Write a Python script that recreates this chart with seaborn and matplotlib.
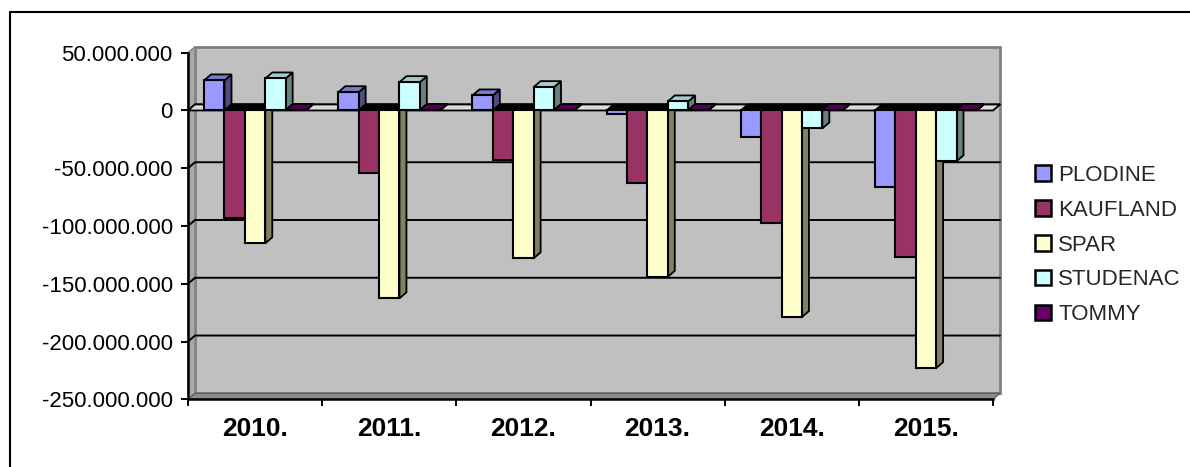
import matplotlib
matplotlib.use("Agg")
import matplotlib.pyplot as plt
from matplotlib.patches import Polygon, Patch, Rectangle
from matplotlib.lines import Line2D
from matplotlib.ticker import FuncFormatter, FixedLocator
from matplotlib.colors import to_rgb
import numpy as np
import pandas as pd
import seaborn as sns

years = ["2010.", "2011.", "2012.", "2013.", "2014.", "2015."]
stores = ["PLODINE", "KAUFLAND", "SPAR", "STUDENAC", "TOMMY"]
plodine = [26.0e6, 15.8e6, 13.0e6, -3.0e6, -23.0e6, -66.3e6]
kaufland = [-93.4e6, -54.5e6, -43.3e6, -63.0e6, -97.7e6, -127.0e6]
spar = [-115.0e6, -162.6e6, -128.0e6, -144.0e6, -178.8e6, -223.0e6]
studenac = [27.7e6, 24.5e6, 20.2e6, 7.8e6, -15.6e6, -44.0e6]
tommy = [0.4e6, 0.4e6, 0.4e6, 0.4e6, 0.4e6, 0.4e6]
colors = ["#9999FF", "#993366", "#FFFFCC", "#CCFFFF", "#660066"]

y_min, y_max = -250e6, 50e6
y_ticks = np.arange(y_min, y_max + 1, 50e6)

rows = []
for store, values in zip(stores, [plodine, kaufland, spar, studenac, tommy]):
    for year, value in zip(years, values):
        rows.append({"year": year, "store": store, "value": value})
df = pd.DataFrame(rows)

sns.set_theme(style="white")
plt.rcParams["font.family"] = ["Liberation Sans", "DejaVu Sans"]

W, H = 1190, 467
fig = plt.figure(figsize=(W / 100, H / 100), dpi=100)

# front frame of the 3d box, in pixels
left_px, right_px, top_px, bottom_px = 188, 993, 52.7, 399.3
ax = fig.add_axes([left_px / W, 1 - bottom_px / H,
                   (right_px - left_px) / W, (bottom_px - top_px) / H])

sns.barplot(data=df, x="year", y="value", hue="store", order=years,
            hue_order=stores, palette=colors, saturation=1, width=0.76,
            edgecolor="black", linewidth=1.5, legend=False, ax=ax)
bars = [p for p in ax.patches if isinstance(p, Rectangle)]

x0, x1 = -0.5, len(years) - 0.5
ax.set_xlim(x0, x1)
ax.set_ylim(y_min, y_max)
ax.patch.set_visible(False)

# depth of the 3d effect, converted from pixels to data units
dx = 7 * (x1 - x0) / (right_px - left_px)
dy = 6 * (y_max - y_min) / (bottom_px - top_px)

# back wall, left wall, floors
ax.add_patch(Rectangle((x0 + dx, y_min + dy), x1 - x0, y_max - y_min,
                       facecolor="#c0c0c0", edgecolor="#808080", lw=2,
                       zorder=0, clip_on=False))
ax.add_patch(Polygon([(x0, y_min), (x0, y_max), (x0 + dx, y_max + dy), (x0 + dx, y_min + dy)],
                     closed=True, facecolor="#a8a8a8", edgecolor="#808080", lw=1,
                     zorder=0.2, clip_on=False))
ax.add_patch(Polygon([(x0, y_min), (x1, y_min), (x1 + dx, y_min + dy), (x0 + dx, y_min + dy)],
                     closed=True, facecolor="#8c8c8c", edgecolor="#606060", lw=1,
                     zorder=0.3, clip_on=False))
for v in y_ticks[1:-1]:
    ax.add_line(Line2D([x0, x0 + dx, x1 + dx], [v, v + dy, v + dy], color="black",
                       lw=1.4, zorder=0.5, clip_on=False))
ax.add_patch(Polygon([(x0, 0), (x1, 0), (x1 + dx, dy), (x0 + dx, dy)],
                     closed=True, facecolor="#dcdcdc", edgecolor="black", lw=1.3,
                     zorder=1, clip_on=False))

# side and top faces for each bar
bar_w = 0.76 / len(stores)
for bar in bars:
    x = bar.get_x()
    w = bar.get_width()
    center = x + w / 2
    k = int(round((center - round(center)) / bar_w + (len(stores) - 1) / 2))
    base = np.array(to_rgb(colors[k]))
    y_a, y_b = bar.get_y(), bar.get_y() + bar.get_height()
    bot, top = min(y_a, y_b), max(y_a, y_b)
    bar.set_zorder(3 + 2 * k)
    bar.set_clip_on(False)
    side = Polygon([(x + w, bot), (x + w, top), (x + w + dx, top + dy), (x + w + dx, bot + dy)],
                   closed=True, facecolor=base * 0.5, edgecolor="black", lw=1.3,
                   zorder=2 + 2 * k, clip_on=False)
    top_color = base * 0.8 if top > 0 else "black"
    cap = Polygon([(x, top), (x + w, top), (x + w + dx, top + dy), (x + dx, top + dy)],
                  closed=True, facecolor=top_color, edgecolor="black", lw=1.3,
                  zorder=2 + 2 * k, clip_on=False)
    ax.add_patch(side)
    ax.add_patch(cap)

for s in ["top", "right"]:
    ax.spines[s].set_visible(False)
for s in ["left", "bottom"]:
    ax.spines[s].set_color("black")
    ax.spines[s].set_linewidth(1.8)
    ax.spines[s].set_zorder(20)

ax.yaxis.set_major_locator(FixedLocator(y_ticks))
ax.yaxis.set_major_formatter(FuncFormatter(lambda v, p: f"{v:,.0f}".replace(",", ".")))
ax.tick_params(axis="y", direction="out", length=5, width=1.4, pad=6,
               labelsize=16, colors="black", left=True)
ax.set_xticks(range(len(years)))
ax.set_xticklabels(years, fontsize=19, fontweight="bold")
ax.set_xticks(np.arange(x0, x1 + 0.01, 1), minor=True)
ax.tick_params(axis="x", which="major", length=0, pad=13, colors="black")
ax.tick_params(axis="x", which="minor", direction="out", length=5, width=1.4,
               colors="black", bottom=True)
ax.set_xlabel("")
ax.set_ylabel("")

handles = [Patch(facecolor=c, edgecolor="black", linewidth=1.8) for c in colors]
fig.legend(handles, stores, loc="upper left", bbox_to_anchor=(1035 / W, 1 - 165 / H),
           frameon=False, fontsize=16, handlelength=0.7, handleheight=0.7,
           handletextpad=0.35, labelspacing=0.62, borderpad=0, borderaxespad=0)

# outer chart border (left and top edges visible)
fig.add_artist(Line2D([10 / W, 10 / W], [0, 1 - 12 / H], transform=fig.transFigure,
                      color="black", lw=1.5))
fig.add_artist(Line2D([10 / W, 1], [1 - 12 / H, 1 - 12 / H], transform=fig.transFigure,
                      color="black", lw=1.5))

fig.savefig("out.png", dpi=100)
